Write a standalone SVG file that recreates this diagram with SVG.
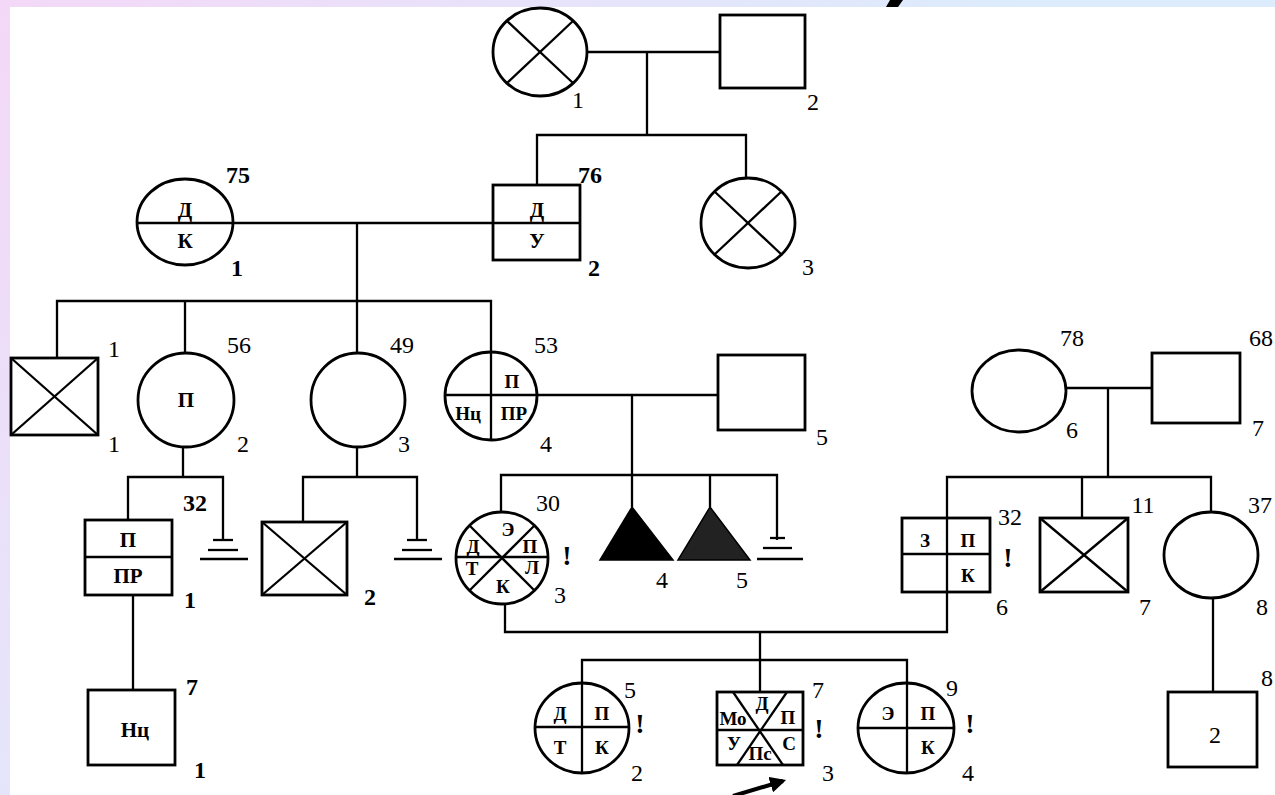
<svg xmlns="http://www.w3.org/2000/svg" width="1275" height="795" viewBox="0 0 1275 795">
<defs>
<linearGradient id="bg" gradientUnits="userSpaceOnUse" x1="0" y1="0" x2="600" y2="500">
<stop offset="0" stop-color="#f4d8f8"/>
<stop offset="1" stop-color="#dcecfc"/>
</linearGradient>
<marker id="ah" viewBox="0 0 10 10" refX="8" refY="5" markerWidth="4" markerHeight="4" orient="auto" markerUnits="strokeWidth">
<path d="M0,0 L10,5 L0,10 z" fill="#000"/>
</marker>
<style>
.ln{stroke:#000;stroke-width:2.3;fill:none}
.sym{stroke:#000;stroke-width:2.8;fill:#fff}
.dv{stroke:#000;stroke-width:2.3;fill:none}
.num{font-family:"Liberation Serif",serif;font-size:24px;fill:#000;text-anchor:middle}
.b{font-weight:bold}
.in{font-family:"Liberation Serif",serif;font-size:21px;font-weight:bold;fill:#000;text-anchor:middle}
.sm{font-size:19px}
.ex{font-family:"Liberation Serif",serif;font-size:28px;font-weight:bold;fill:#000;text-anchor:middle}
</style>
</defs>
<rect x="0" y="0" width="1275" height="795" fill="url(#bg)"/>
<rect x="10" y="7" width="1265" height="788" fill="#fff"/>
<polygon points="890,0 903,0 898,7 886,7" fill="#000"/>

<g id="connectors">
<line class="ln" x1="587" y1="52" x2="720" y2="52"/>
<line class="ln" x1="647" y1="52" x2="647" y2="135"/>
<polyline class="ln" points="537,185 537,135 746,135 746,178"/>
<line class="ln" x1="232" y1="223" x2="493" y2="223"/>
<line class="ln" x1="357" y1="223" x2="357" y2="352"/>
<polyline class="ln" points="57,358 57,301 491,301 491,352"/>
<line class="ln" x1="185" y1="301" x2="185" y2="352"/>
<line class="ln" x1="183" y1="447" x2="183" y2="477"/>
<polyline class="ln" points="128,520 128,477 223,477 223,540"/>
<line class="ln" x1="357" y1="447" x2="357" y2="477"/>
<polyline class="ln" points="303,522 303,477 417,477 417,540"/>
<line class="ln" x1="537" y1="395" x2="718" y2="395"/>
<line class="ln" x1="632" y1="395" x2="632" y2="507"/>
<polyline class="ln" points="501,512 501,475 777,475 777,540"/>
<line class="ln" x1="710" y1="475" x2="710" y2="507"/>
<line class="ln" x1="1067" y1="388" x2="1152" y2="388"/>
<line class="ln" x1="1108" y1="388" x2="1108" y2="477"/>
<polyline class="ln" points="947,518 947,477 1211,477 1211,512"/>
<line class="ln" x1="1082" y1="477" x2="1082" y2="518"/>
<line class="ln" x1="1213" y1="598" x2="1213" y2="692"/>
<line class="ln" x1="133" y1="595" x2="133" y2="690"/>
<polyline class="ln" points="505,604 505,632 947,632 947,592"/>
<line class="ln" x1="760" y1="632" x2="760" y2="660"/>
<polyline class="ln" points="582,683 582,660 907,660 907,683"/>
<line class="ln" x1="760" y1="660" x2="760" y2="692"/>
<g class="ln">
<line x1="213" y1="540" x2="233" y2="540"/><line x1="208" y1="550" x2="238" y2="550"/><line x1="200" y1="559" x2="248" y2="559"/>
<line x1="407" y1="540" x2="427" y2="540"/><line x1="402" y1="550" x2="432" y2="550"/><line x1="394" y1="559" x2="442" y2="559"/>
<line x1="770" y1="538" x2="785" y2="538"/><line x1="763" y1="548" x2="792" y2="548"/><line x1="757" y1="559" x2="803" y2="559"/>
</g>
<line x1="733" y1="796" x2="783" y2="781" stroke="#000" stroke-width="4" marker-end="url(#ah)"/>
</g>

<g id="I-1">
<ellipse class="sym" cx="540" cy="52" rx="47" ry="44"/>
<line class="dv" x1="507" y1="21" x2="573" y2="83"/>
<line class="dv" x1="573" y1="21" x2="507" y2="83"/>
<text class="num" x="578" y="108">1</text>
</g>
<g id="I-2">
<rect class="sym" x="720" y="15" width="85" height="73"/>
<text class="num" x="813" y="110">2</text>
</g>

<g id="II-1">
<ellipse class="sym" cx="185" cy="222" rx="48" ry="43"/>
<line class="dv" x1="137" y1="223" x2="232" y2="223"/>
<text class="in" x="185" y="217">Д</text>
<text class="in" x="185" y="248">К</text>
<text class="num b" x="238" y="183">75</text>
<text class="num b" x="237" y="276">1</text>
</g>
<g id="II-2">
<rect class="sym" x="493" y="185" width="87" height="75"/>
<line class="dv" x1="493" y1="223" x2="580" y2="223"/>
<text class="in" x="537" y="217">Д</text>
<text class="in" x="537" y="248">У</text>
<text class="num b" x="590" y="183">76</text>
<text class="num b" x="594" y="276">2</text>
</g>
<g id="II-3">
<ellipse class="sym" cx="748" cy="223" rx="47" ry="45"/>
<line class="dv" x1="714" y1="191" x2="782" y2="255"/>
<line class="dv" x1="782" y1="191" x2="714" y2="255"/>
<text class="num" x="808" y="275">3</text>
</g>

<g id="II-b1">
<rect class="sym" x="11" y="358" width="87" height="77"/>
<line class="dv" x1="11" y1="358" x2="98" y2="435"/>
<line class="dv" x1="98" y1="358" x2="11" y2="435"/>
<text class="num" x="114" y="357">1</text>
<text class="num" x="114" y="452">1</text>
</g>
<g id="II-b2">
<ellipse class="sym" cx="186" cy="400" rx="48" ry="47"/>
<text class="in" x="186" y="407">П</text>
<text class="num" x="239" y="353">56</text>
<text class="num" x="243" y="452">2</text>
</g>
<g id="II-b3">
<ellipse class="sym" cx="358" cy="400" rx="47" ry="47"/>
<text class="num" x="402" y="353">49</text>
<text class="num" x="404" y="452">3</text>
</g>
<g id="II-b4">
<ellipse class="sym" cx="491" cy="396" rx="46" ry="44"/>
<line class="dv" x1="445" y1="395" x2="537" y2="395"/>
<line class="dv" x1="491" y1="352" x2="491" y2="440"/>
<text class="in sm" x="512" y="388">П</text>
<text class="in sm" x="468" y="420">Нц</text>
<text class="in sm" x="514" y="420">ПР</text>
<text class="num" x="546" y="353">53</text>
<text class="num" x="546" y="452">4</text>
</g>
<g id="II-b5">
<rect class="sym" x="718" y="355" width="87" height="75"/>
<text class="num" x="822" y="445">5</text>
</g>
<g id="II-b6">
<ellipse class="sym" cx="1019" cy="391" rx="47" ry="41"/>
<text class="num" x="1072" y="346">78</text>
<text class="num" x="1072" y="438">6</text>
</g>
<g id="II-b7">
<rect class="sym" x="1152" y="353" width="88" height="70"/>
<text class="num" x="1261" y="346">68</text>
<text class="num" x="1258" y="436">7</text>
</g>

<g id="III-1">
<rect class="sym" x="85" y="520" width="87" height="75"/>
<line class="dv" x1="85" y1="557" x2="172" y2="557"/>
<text class="in" x="128" y="547">П</text>
<text class="in" x="128" y="583">ПР</text>
<text class="num b" x="195" y="511">32</text>
<text class="num b" x="190" y="608">1</text>
</g>
<g id="III-2">
<rect class="sym" x="262" y="522" width="85" height="73"/>
<line class="dv" x1="262" y1="522" x2="347" y2="595"/>
<line class="dv" x1="347" y1="522" x2="262" y2="595"/>
<text class="num b" x="370" y="605">2</text>
</g>
<g id="III-3">
<ellipse class="sym" cx="502" cy="558" rx="46" ry="46"/>
<line class="dv" x1="456" y1="557" x2="548" y2="557"/>
<line class="dv" x1="469" y1="525" x2="535" y2="591"/>
<line class="dv" x1="535" y1="525" x2="469" y2="591"/>
<text class="in sm" x="508" y="536">Э</text>
<text class="in sm" x="473" y="553">Д</text>
<text class="in sm" x="530" y="553">П</text>
<text class="in sm" x="472" y="575">Т</text>
<text class="in sm" x="532" y="574">Л</text>
<text class="in sm" x="503" y="593">К</text>
<text class="num" x="548" y="511">30</text>
<text class="ex" x="567" y="565">!</text>
<text class="num" x="560" y="603">3</text>
</g>
<g id="III-4">
<polygon points="632,507 673,560 600,560" fill="#000" stroke="#000" stroke-width="1.5"/>
<text class="num" x="662" y="588">4</text>
</g>
<g id="III-5">
<polygon points="710,507 750,560 678,560" fill="#222" stroke="#000" stroke-width="1.5"/>
<text class="num" x="742" y="588">5</text>
</g>
<g id="III-6">
<rect class="sym" x="902" y="518" width="88" height="74"/>
<line class="dv" x1="947" y1="518" x2="947" y2="592"/>
<line class="dv" x1="902" y1="554" x2="990" y2="554"/>
<text class="in sm" x="925" y="547">З</text>
<text class="in sm" x="968" y="547">П</text>
<text class="in sm" x="968" y="582">К</text>
<text class="num" x="1010" y="525">32</text>
<text class="ex" x="1008" y="567">!</text>
<text class="num" x="1002" y="615">6</text>
</g>
<g id="III-7">
<rect class="sym" x="1040" y="518" width="88" height="74"/>
<line class="dv" x1="1040" y1="518" x2="1128" y2="592"/>
<line class="dv" x1="1128" y1="518" x2="1040" y2="592"/>
<text class="num" x="1143" y="513">11</text>
<text class="num" x="1145" y="615">7</text>
</g>
<g id="III-8">
<ellipse class="sym" cx="1211" cy="555" rx="47" ry="43"/>
<text class="num" x="1260" y="513">37</text>
<text class="num" x="1262" y="615">8</text>
</g>

<g id="IV-1">
<rect class="sym" x="88" y="690" width="87" height="75"/>
<text class="in" x="135" y="737">Нц</text>
<text class="num b" x="192" y="695">7</text>
<text class="num b" x="200" y="778">1</text>
</g>
<g id="IV-2">
<ellipse class="sym" cx="582" cy="728" rx="47" ry="45"/>
<line class="dv" x1="582" y1="683" x2="582" y2="773"/>
<line class="dv" x1="535" y1="727" x2="629" y2="727"/>
<text class="in sm" x="560" y="720">Д</text>
<text class="in sm" x="602" y="720">П</text>
<text class="in sm" x="560" y="754">Т</text>
<text class="in sm" x="602" y="754">К</text>
<text class="num" x="630" y="698">5</text>
<text class="ex" x="640" y="733">!</text>
<text class="num" x="637" y="781">2</text>
</g>
<g id="IV-3">
<rect class="sym" x="717" y="692" width="86" height="73"/>
<line class="dv" x1="717" y1="730" x2="803" y2="730"/>
<line class="dv" x1="733" y1="692" x2="783" y2="765"/>
<line class="dv" x1="787" y1="692" x2="737" y2="765"/>
<text class="in sm" x="762" y="710">Д</text>
<text class="in sm" x="788" y="724">П</text>
<text class="in sm" x="733" y="725">Мо</text>
<text class="in sm" x="734" y="750">У</text>
<text class="in sm" x="760" y="760">Пс</text>
<text class="in sm" x="789" y="750">С</text>
<text class="num" x="818" y="698">7</text>
<text class="ex" x="819" y="738">!</text>
<text class="num" x="828" y="781">3</text>
</g>
<g id="IV-4">
<ellipse class="sym" cx="906" cy="728" rx="48" ry="45"/>
<line class="dv" x1="907" y1="683" x2="907" y2="773"/>
<line class="dv" x1="858" y1="728" x2="954" y2="728"/>
<text class="in sm" x="888" y="720">Э</text>
<text class="in sm" x="928" y="720">П</text>
<text class="in sm" x="928" y="754">К</text>
<text class="num" x="952" y="696">9</text>
<text class="ex" x="970" y="733">!</text>
<text class="num" x="968" y="781">4</text>
</g>
<g id="IV-5">
<rect class="sym" x="1168" y="692" width="89" height="75"/>
<text class="num" x="1215" y="743">2</text>
<text class="num" x="1267" y="686">8</text>
</g>
</svg>
